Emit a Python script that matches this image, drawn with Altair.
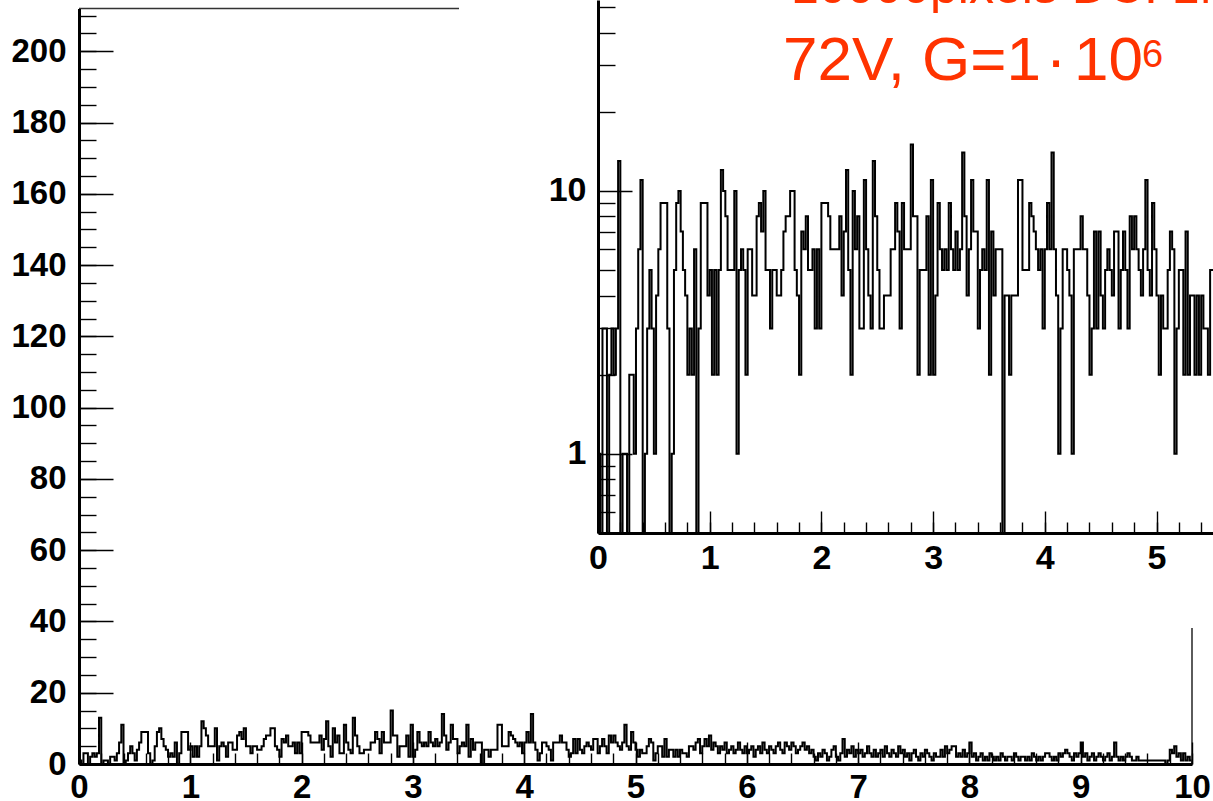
import altair as alt
import pandas as pd

# ---------------- data (counts per 0.02-wide bin) ----------------
BIN_WIDTH = 0.02
COUNTS_0_1 = [1, 0, 3, 3, 0, 2, 3, 2, 3, 13, 0, 1, 1, 0, 2, 2, 1, 3, 6, 11,
              0, 1, 3, 5, 3, 1, 4, 6, 9, 9, 9, 3, 0, 1, 5, 9, 10, 7, 5, 4,
              2, 3, 2, 6, 0, 3, 9, 9, 9, 4]
COUNTS_1_2 = [5, 2, 5, 2, 5, 12, 10, 8, 5, 5, 5, 10, 1, 5, 6, 5, 2, 6, 6, 4,
              4, 8, 9, 7, 10, 5, 5, 3, 5, 5, 4, 4, 5, 7, 8, 8, 10, 10, 5, 4,
              2, 7, 6, 8, 5, 5, 6, 3, 6, 3]
COUNTS_2_3 = [9, 9, 9, 8, 6, 6, 6, 6, 8, 4, 7, 12, 5, 2, 10, 6, 8, 3, 3, 11,
              6, 4, 3, 13, 8, 5, 3, 3, 4, 4, 4, 6, 6, 9, 7, 3, 9, 6, 6, 6,
              15, 8, 8, 2, 5, 5, 5, 8, 2, 11]
COUNTS_3_4 = [2, 4, 9, 6, 5, 6, 5, 9, 6, 5, 7, 5, 6, 14, 8, 4, 6, 11, 7, 7,
              3, 5, 6, 5, 11, 2, 7, 4, 6, 6, 6, 0, 4, 4, 2, 4, 4, 4, 11, 11,
              5, 5, 5, 9, 8, 7, 6, 5, 6, 3]
COUNTS_4_5 = [6, 9, 6, 14, 6, 4, 1, 3, 6, 6, 5, 4, 1, 6, 6, 6, 8, 6, 6, 4,
              2, 3, 7, 3, 7, 4, 3, 5, 6, 5, 4, 7, 7, 3, 5, 7, 5, 3, 8, 6,
              8, 6, 5, 4, 6, 11, 5, 4, 9, 6]
COUNTS_5_6 = [4, 2, 4, 3, 3, 5, 7, 6, 1, 3, 5, 5, 2, 7, 2, 4, 4, 2, 4, 2,
              4, 3, 3, 2, 5, 5, 4, 6, 7, 3, 5, 7, 5, 8, 4, 6, 5, 3, 5, 4,
              6, 3, 4, 5, 3, 4, 6, 4, 3, 5]
COUNTS_6_7 = [3, 4, 5, 2, 4, 5, 3, 6, 4, 3, 5, 4, 3, 5, 6, 4, 3, 6, 5, 4,
              6, 5, 3, 4, 5, 6, 4, 5, 3, 4, 2, 1, 3, 2, 4, 3, 1, 2, 4, 5,
              2, 1, 3, 7, 2, 4, 3, 5, 2, 4]
COUNTS_7_8 = [3, 4, 2, 3, 5, 3, 2, 4, 2, 3, 4, 2, 5, 3, 2, 4, 3, 2, 5, 3,
              4, 2, 3, 1, 3, 4, 2, 1, 3, 2, 4, 3, 2, 1, 3, 2, 2, 4, 2, 5,
              3, 4, 5, 5, 2, 3, 2, 4, 2, 3]
COUNTS_8_9 = [6, 2, 3, 1, 2, 3, 1, 2, 1, 3, 2, 1, 2, 1, 3, 2, 1, 2, 2, 1,
              3, 2, 1, 2, 2, 1, 2, 1, 3, 2, 1, 2, 1, 2, 3, 3, 2, 1, 2, 1,
              3, 2, 3, 4, 3, 2, 1, 3, 2, 3]
COUNTS_9_10 = [6, 2, 3, 1, 2, 3, 1, 2, 3, 2, 1, 2, 3, 1, 2, 6, 2, 1, 2, 1,
               2, 3, 2, 1, 1, 2, 1, 1, 1, 1, 1, 1, 1, 1, 1, 1, 1, 1, 0, 1,
               4, 3, 5, 2, 3, 1, 3, 1, 2, 1]
COUNTS = (COUNTS_0_1 + COUNTS_1_2 + COUNTS_2_3 + COUNTS_3_4 + COUNTS_4_5
          + COUNTS_5_6 + COUNTS_6_7 + COUNTS_7_8 + COUNTS_8_9 + COUNTS_9_10)

MAIN_X_DOMAIN = [0, 10]
MAIN_Y_DOMAIN = [0, 212]
MAIN_X_LABELS = list(range(0, 11))
MAIN_X_MINOR = [round(i * 0.2, 1) for i in range(51)]
MAIN_Y_LABELS = list(range(0, 201, 20))
MAIN_Y_MINOR = list(range(0, 211, 5))

INSET_X_DOMAIN = [0, 10]
INSET_Y_DOMAIN = [0.5, 53.2]
INSET_X_LABELS = [0, 1, 2, 3, 4, 5]
INSET_X_MAJOR = list(range(0, 11))
INSET_X_MINOR = [round(i * 0.2, 1) for i in range(51)]
INSET_Y_LABELS = [1, 10]
INSET_Y_MINOR = [0.6, 0.7, 0.8, 0.9, 2, 3, 4, 5, 6, 7, 8, 9, 20, 30, 40, 50]

TEXT_LINE1 = "10000pixels DC: 1MHz"
TEXT_LINE2_A = "72V, G=1"
TEXT_LINE2_DOT = "·"
TEXT_LINE2_B = "10"
TEXT_SUP = "6"

# ---------------- layout ----------------
W, H = 1213, 801
FONT = "Liberation Sans"
RED = "#FF3300"

n = len(COUNTS)
edges = [round(i * BIN_WIDTH, 4) for i in range(n)]
x_end = round(n * BIN_WIDTH, 4)
hist = pd.DataFrame({
    "x": [0.0] + edges + [x_end, x_end],
    "count": [0] + COUNTS + [COUNTS[-1], 0],
})
hist["order"] = range(len(hist))

MX = alt.Scale(domain=MAIN_X_DOMAIN, range=[79, 1192], nice=False, zero=False)
MY = alt.Scale(domain=MAIN_Y_DOMAIN, range=[764, 8.5], nice=False, zero=False)
IX = alt.Scale(domain=INSET_X_DOMAIN, range=[598, 598 + 1117], nice=False, zero=False)
IY = alt.Scale(type="log", domain=INSET_Y_DOMAIN, range=[533, 0], nice=False)


def carrier(vals, ch, scale, **kw):
    base = dict(grid=False, title=None, zindex=1, labelFlush=False, labelOverlap=False)
    base.update(kw)
    ax = alt.Axis(**base)
    df = pd.DataFrame({"v": vals})
    enc = alt.X("v:Q", scale=scale, axis=ax) if ch == "x" else alt.Y("v:Q", scale=scale, axis=ax)
    return alt.Chart(df).mark_point(opacity=0).encode(**{ch: enc})


def tick_axis(vals, ch, scale, orient, offset, size):
    return carrier(vals, ch, scale, orient=orient, offset=offset, values=vals,
                   labels=False, domain=False, ticks=True, tickSize=size,
                   tickWidth=1.4, tickColor="black")


def label_axis(vals, ch, scale, orient, offset, pad, fs):
    return carrier(vals, ch, scale, orient=orient, offset=offset, values=vals,
                   ticks=False, tickSize=0, domain=True, domainColor="black",
                   domainWidth=3, labels=True, labelFont=FONT, labelFontSize=fs,
                   labelFontWeight="bold", labelColor="black", labelPadding=pad,
                   format="d")


# main histogram
main_hist = alt.Chart(hist).mark_line(
    interpolate="step-after", color="black", strokeWidth=2
).encode(
    x=alt.X("x:Q", scale=MX, axis=None),
    y=alt.Y("count:Q", scale=MY, axis=None),
    order="order:Q",
)

frame_df = pd.DataFrame({
    "x": [MAIN_X_DOMAIN[0], MAIN_X_DOMAIN[1]],
    "x2": [MAIN_X_DOMAIN[1], MAIN_X_DOMAIN[1]],
    "y": [MAIN_Y_DOMAIN[1], MAIN_Y_DOMAIN[0]],
    "y2": [MAIN_Y_DOMAIN[1], MAIN_Y_DOMAIN[1]],
})
main_frame = alt.Chart(frame_df).mark_rule(color="#333333", strokeWidth=1.6).encode(
    x=alt.X("x:Q", scale=MX, axis=None), x2="x2:Q",
    y=alt.Y("y:Q", scale=MY, axis=None), y2="y2:Q",
)

main_axes = [
    label_axis(MAIN_Y_LABELS, "y", MY, "left", -79, 13, 33),
    tick_axis(MAIN_Y_LABELS, "y", MY, "right", -(W - 79), 34),
    tick_axis(MAIN_Y_MINOR, "y", MY, "right", -(W - 79), 17),
    label_axis(MAIN_X_LABELS, "x", MX, "bottom", -(H - 764), 7, 33),
    tick_axis(MAIN_X_LABELS, "x", MX, "top", -764, 22),
    tick_axis(MAIN_X_MINOR, "x", MX, "top", -764, 11),
]

# inset panel (white background of the pasted log-scale view)
panel = alt.Chart(pd.DataFrame({"a": [0]})).mark_rect(color="white").encode(
    x=alt.value(459), x2=alt.value(W), y=alt.value(0), y2=alt.value(628)
)

inset_hist = alt.Chart(hist).transform_calculate(
    yv="max(datum.count, 0.5)"
).mark_line(interpolate="step-after", color="black", strokeWidth=2).encode(
    x=alt.X("x:Q", scale=IX, axis=None),
    y=alt.Y("yv:Q", scale=IY, axis=None),
    order="order:Q",
)

inset_axes = [
    label_axis(INSET_Y_LABELS, "y", IY, "left", -598, 12, 34),
    tick_axis(INSET_Y_LABELS, "y", IY, "right", -(W - 598), 34),
    tick_axis(INSET_Y_MINOR, "y", IY, "right", -(W - 598), 17),
    label_axis(INSET_X_LABELS, "x", IX, "bottom", -(H - 533), 8, 34),
    tick_axis(INSET_X_MAJOR, "x", IX, "top", -533, 22),
    tick_axis(INSET_X_MINOR, "x", IX, "top", -533, 11),
]


def text_layer(txt, x, y, fs, align="left"):
    return alt.Chart(pd.DataFrame({"t": [txt]})).mark_text(
        align=align, baseline="alphabetic", font=FONT, fontSize=fs, color=RED
    ).encode(text="t:N", x=alt.value(x), y=alt.value(y))


texts = [
    text_layer(TEXT_LINE1, 791, 3, 50),
    text_layer(TEXT_LINE2_A, 783, 80, 62),
    text_layer(TEXT_LINE2_DOT, 1056, 80, 62, align="center"),
    text_layer(TEXT_LINE2_B, 1074, 80, 62),
    text_layer(TEXT_SUP, 1142, 67, 38),
]

chart = alt.layer(
    main_hist, main_frame, *main_axes, panel, inset_hist, *inset_axes, *texts
).resolve_scale(
    x="independent", y="independent"
).properties(
    width=W, height=H, autosize=alt.AutoSizeParams(type="none"), padding=0,
    background="white",
).configure_view(stroke=None)

chart.save("out.html", embed_options={"renderer": "svg", "actions": False})
